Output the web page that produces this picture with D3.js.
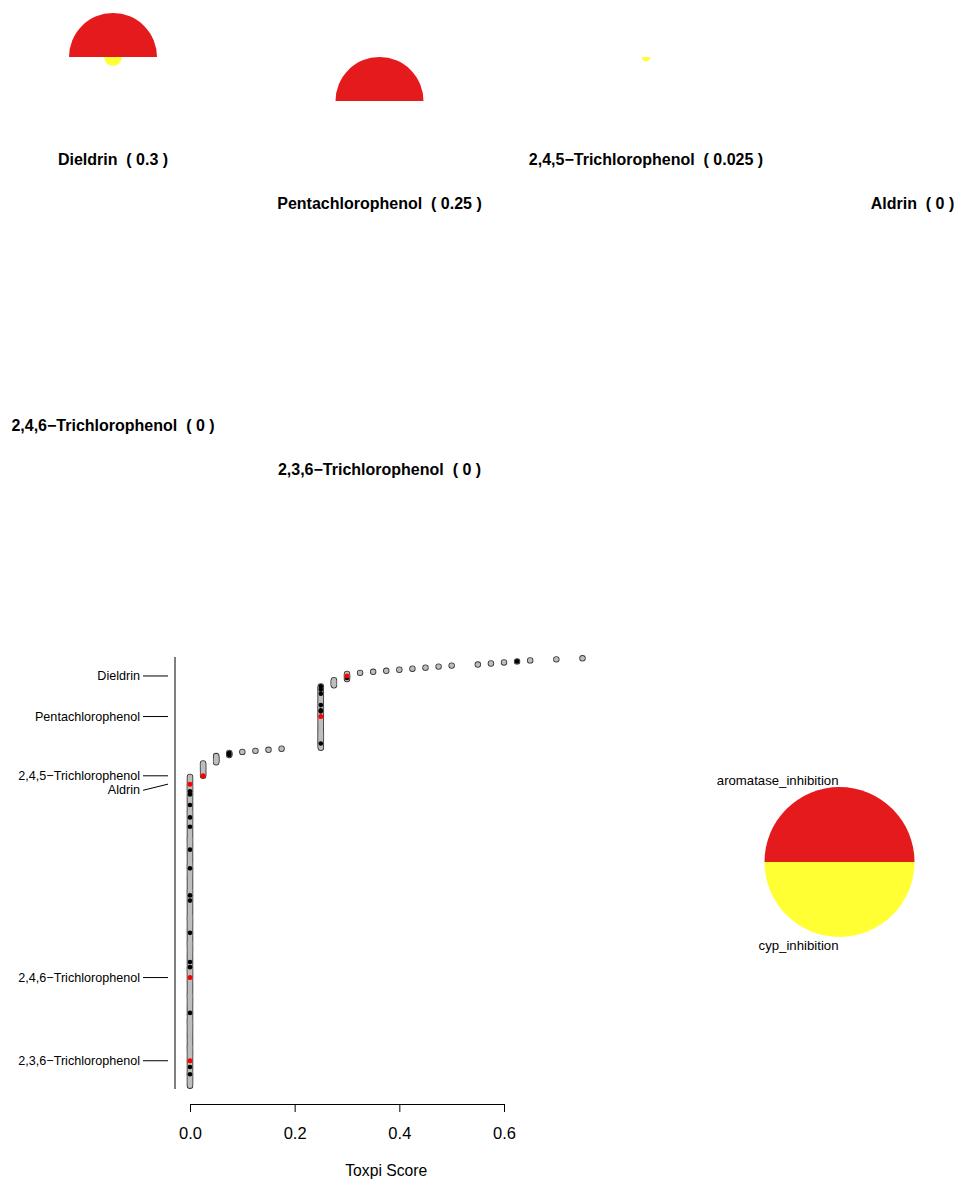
<!DOCTYPE html>
<html>
<head>
<meta charset="utf-8">
<script src="https://cdn.jsdelivr.net/npm/d3@7"></script>
<style>
  html, body { margin: 0; padding: 0; background: #fff; }
  svg { display: block; font-family: "Liberation Sans", Arial, Helvetica, sans-serif; }
</style>
</head>
<body>
<svg id="chart" width="955" height="1179"></svg>
<script>
// ToxPi profiles for the selected chemicals
const chemNames = ["Dieldrin", "Pentachlorophenol", "2,4,5\u2212Trichlorophenol", "Aldrin",
                   "2,4,6\u2212Trichlorophenol", "2,3,6\u2212Trichlorophenol"];
const toxpiScores = [0.3, 0.25, 0.025, 0, 0, 0];
const aromataseScores = [0.5, 0.5, 0, 0, 0, 0];
const cypScores = [0.1, 0, 0.05, 0, 0, 0];
const chemRanks = [18, 57, 114, 122, 308, 388];

const sliceNames = ["aromatase_inhibition", "cyp_inhibition"];
const sliceColors = ["#E41A1C", "#FFFF33"];

// Full ranking: distinct ToxPi scores and how many chemicals share each one
const scoreLevels = [0.75, 0.7, 0.65, 0.625, 0.6, 0.575, 0.55, 0.5, 0.475, 0.45, 0.425, 0.4,
                     0.375, 0.35, 0.325, 0.3, 0.275, 0.25, 0.175, 0.15, 0.125, 0.1, 0.075,
                     0.05, 0.025, 0];
const levelCounts = [1, 1, 1, 1, 1, 1, 1, 1, 1, 1, 1, 1, 1, 1, 1, 6, 6, 60, 1, 1, 1, 1, 3,
                     7, 13, 298];
// Ranks of chemicals in the highlighted class
const highlightRanks = [4, 20, 28, 31, 35, 46, 51, 52, 83, 92, 93, 94, 129, 132, 142, 154,
                        163, 185, 203, 229, 234, 265, 293, 298, 342, 394, 401];
const xTicks = [0, 0.2, 0.4, 0.6];

const svg = d3.select("#chart");

// ---------- ToxPi profile grid ----------
const maxRadius = 88;
const rScale = d3.scaleLinear().domain([0, 1]).range([0, maxRadius]);
const colCenter = d3.scaleLinear().domain([0, 3]).range([113, 912.5]);
const sliceAngles = [[-Math.PI / 2, Math.PI / 2], [Math.PI / 2, 3 * Math.PI / 2]];

chemNames.forEach((name, i) => {
  const col = i % 4, row = Math.floor(i / 4);
  const cx = colCenter(col);
  const stagger = col % 2 === 1 ? 44 : 0;
  const cy = 57 + row * 266 + stagger;
  const g = svg.append("g").attr("transform", `translate(${cx},${cy})`);
  const vals = [aromataseScores[i], cypScores[i]];
  vals.forEach((v, k) => {
    if (v <= 0) return;
    g.append("path")
      .attr("d", d3.arc()({innerRadius: 0, outerRadius: rScale(v),
                           startAngle: sliceAngles[k][0], endAngle: sliceAngles[k][1]}))
      .attr("fill", sliceColors[k]);
  });
  svg.append("text")
    .attr("x", cx).attr("y", 159 + row * 266 + stagger)
    .attr("text-anchor", "middle").attr("dominant-baseline", "central")
    .attr("font-size", 16).attr("font-weight", "bold").attr("fill", "#000")
    .attr("xml:space", "preserve").style("white-space", "pre")
    .text(`${name}  ( ${toxpiScores[i]} )`);
});

// ---------- Ranking plot ----------
const points = [];
scoreLevels.forEach((s, li) => {
  for (let k = 0; k < levelCounts[li]; k++) points.push({rank: points.length + 1, score: s});
});
const N = points.length;

const x = d3.scaleLinear().domain([0, 0.6]).range([190, 504]);
const y = d3.scaleLinear().domain([1, N]).range([658.3, 1085.7]);

svg.append("line").attr("x1", 175).attr("x2", 175).attr("y1", 657).attr("y2", 1089)
  .attr("stroke", "#000").attr("stroke-width", 1);

// outlined grey points: dark rims first, light fills on top so tied ranks merge into one capsule
svg.append("g").selectAll("circle").data(points).join("circle")
  .attr("cx", d => x(d.score)).attr("cy", d => y(d.rank)).attr("r", 3.2)
  .attr("fill", "#333");
svg.append("g").selectAll("circle").data(points).join("circle")
  .attr("cx", d => x(d.score)).attr("cy", d => y(d.rank)).attr("r", 2.4)
  .attr("fill", "#BEBEBE");

svg.append("g").selectAll("circle").data(highlightRanks).join("circle")
  .attr("cx", r => x(points[r - 1].score)).attr("cy", r => y(r)).attr("r", 2.3)
  .attr("fill", "#000");

svg.append("g").selectAll("circle").data(chemNames).join("circle")
  .attr("cx", (d, i) => x(toxpiScores[i])).attr("cy", (d, i) => y(chemRanks[i])).attr("r", 2.5)
  .attr("fill", "#FF0000");

// chemical labels, spread apart so they never overlap
const order = d3.range(chemNames.length).sort((a, b) => chemRanks[a] - chemRanks[b]);
let prevY = -Infinity;
order.forEach(i => {
  const py = y(chemRanks[i]);
  const ly = Math.max(py, prevY + 14.5);
  prevY = ly;
  svg.append("line").attr("x1", 143).attr("y1", ly).attr("x2", 168).attr("y2", py)
    .attr("stroke", "#000").attr("stroke-width", 1);
  svg.append("text").attr("x", 140).attr("y", ly)
    .attr("text-anchor", "end").attr("dominant-baseline", "central")
    .attr("font-size", 12.6).attr("fill", "#000").text(chemNames[i]);
});

// x axis
const xAxis = svg.append("g").attr("transform", "translate(0,1104)")
  .call(d3.axisBottom(x).tickValues(xTicks).tickFormat(d3.format(".1f")).tickSize(8).tickPadding(15));
xAxis.select(".domain").attr("d", `M${x(0)},0.5H${x(0.6)}`).attr("stroke", "#000");
xAxis.selectAll(".tick line").attr("stroke", "#000");
xAxis.selectAll(".tick text").attr("font-size", 16.5).attr("fill", "#000")
  .attr("font-family", "Liberation Sans, Arial, sans-serif");

svg.append("text").attr("x", (x(0) + x(d3.max(scoreLevels))) / 2).attr("y", 1170)
  .attr("text-anchor", "middle").attr("dominant-baseline", "central")
  .attr("font-size", 15.7).attr("fill", "#000").text("Toxpi Score");

// ---------- Slice legend ----------
const legend = svg.append("g").attr("transform", "translate(839.5,862)");
const legendR = 75;
sliceNames.forEach((n, k) => {
  legend.append("path")
    .attr("d", d3.arc()({innerRadius: 0, outerRadius: legendR,
                         startAngle: sliceAngles[k][0], endAngle: sliceAngles[k][1]}))
    .attr("fill", sliceColors[k]);
});
legend.append("text").attr("x", -1).attr("y", -82)
  .attr("text-anchor", "end").attr("dominant-baseline", "central")
  .attr("font-size", 13.2).attr("fill", "#000").text(sliceNames[0]);
legend.append("text").attr("x", -1).attr("y", 83)
  .attr("text-anchor", "end").attr("dominant-baseline", "central")
  .attr("font-size", 13.2).attr("fill", "#000").text(sliceNames[1]);
</script>
</body>
</html>
